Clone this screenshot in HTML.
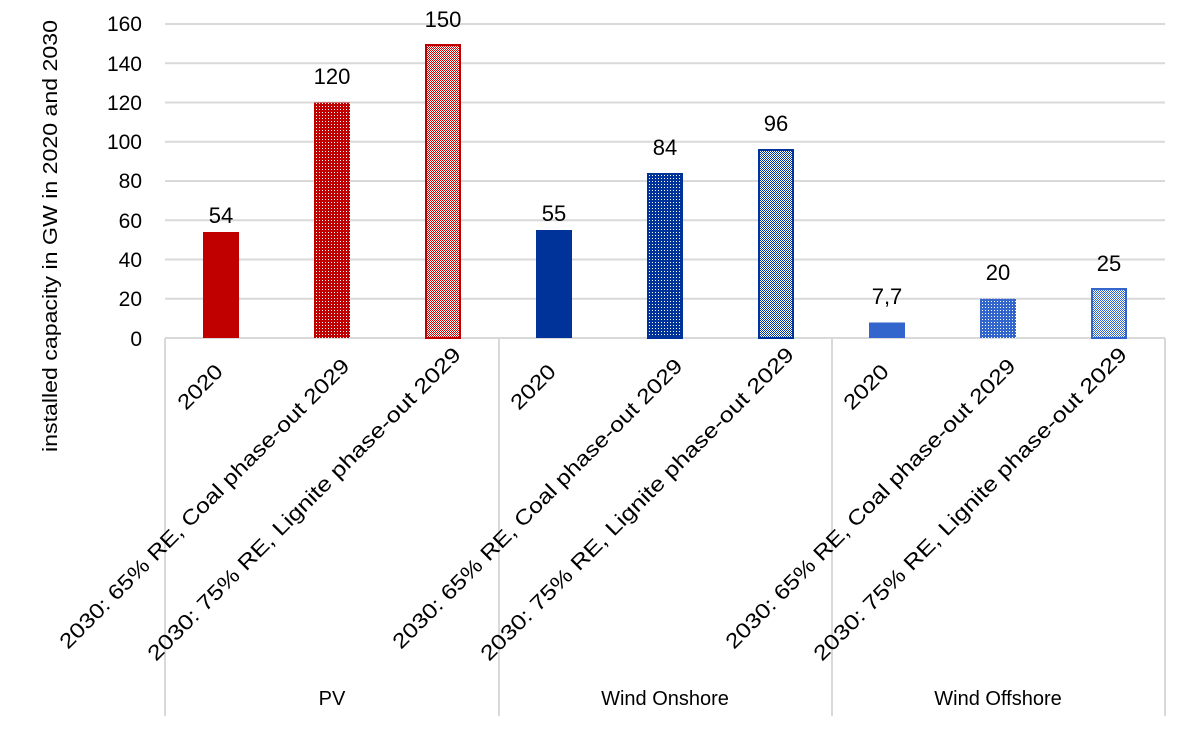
<!DOCTYPE html>
<html><head><meta charset="utf-8"><style>body{margin:0;background:#fff}</style></head><body>
<svg width="1182" height="727" xmlns="http://www.w3.org/2000/svg" font-family="Liberation Sans, sans-serif">
<defs>
<pattern id="rd" width="3" height="3" patternUnits="userSpaceOnUse"><rect width="3" height="3" fill="#C00000"/><rect x="1" y="1" width="1" height="1" fill="#fff"/></pattern>
<pattern id="rl" width="2" height="2" patternUnits="userSpaceOnUse"><rect width="2" height="2" fill="#fff"/><rect width="1" height="1" fill="#D00000"/><rect x="1" y="1" width="1" height="1" fill="#D00000"/></pattern>
<pattern id="bd" width="3" height="3" patternUnits="userSpaceOnUse"><rect width="3" height="3" fill="#003399"/><rect x="1" y="1" width="1" height="1" fill="#fff"/></pattern>
<pattern id="bl" width="2" height="2" patternUnits="userSpaceOnUse"><rect width="2" height="2" fill="#fff"/><rect width="1" height="1" fill="#003399"/><rect x="1" y="1" width="1" height="1" fill="#003399"/></pattern>
<pattern id="cd" width="3" height="3" patternUnits="userSpaceOnUse"><rect width="3" height="3" fill="#3366CC"/><rect x="1" y="1" width="1" height="1" fill="#fff"/></pattern>
<pattern id="cl" width="2" height="2" patternUnits="userSpaceOnUse"><rect width="2" height="2" fill="#fff"/><rect width="1" height="1" fill="#3366CC"/><rect x="1" y="1" width="1" height="1" fill="#3366CC"/></pattern>
</defs>
<g stroke="#d9d9d9" stroke-width="2">
<line x1="165" x2="1165" y1="24" y2="24"/><line x1="165" x2="1165" y1="63.25" y2="63.25"/><line x1="165" x2="1165" y1="102.5" y2="102.5"/><line x1="165" x2="1165" y1="141.75" y2="141.75"/><line x1="165" x2="1165" y1="181" y2="181"/><line x1="165" x2="1165" y1="220.25" y2="220.25"/><line x1="165" x2="1165" y1="259.5" y2="259.5"/><line x1="165" x2="1165" y1="298.75" y2="298.75"/><line x1="165" x2="1165" y1="338" y2="338"/>
<line x1="165" x2="165" y1="338" y2="716"/><line x1="499" x2="499" y1="338" y2="716"/><line x1="832" x2="832" y1="338" y2="716"/><line x1="1165" x2="1165" y1="338" y2="716"/>
</g>
<g font-size="21" fill="#000" text-anchor="end">
<text x="142" y="31">160</text><text x="142" y="71">140</text><text x="142" y="110">120</text><text x="142" y="149">100</text><text x="142" y="188">80</text><text x="142" y="228">60</text><text x="142" y="267">40</text><text x="142" y="306">20</text><text x="142" y="346">0</text>
</g>
<text transform="translate(57,452) rotate(-90)" font-size="20" textLength="432" lengthAdjust="spacingAndGlyphs">installed capacity in GW in 2020 and 2030</text>
<rect x="203" y="232" width="36" height="106" fill="#C00000"/>
<rect x="314" y="102.5" width="36" height="235.5" fill="url(#rd)"/>
<rect x="426" y="45" width="34" height="293" fill="url(#rl)" stroke="#C00000" stroke-width="2"/>
<rect x="536" y="230" width="36" height="108" fill="#003399"/>
<rect x="648" y="174" width="34" height="164" fill="url(#bd)" stroke="#003399" stroke-width="2"/>
<rect x="759" y="150" width="34" height="188" fill="url(#bl)" stroke="#003399" stroke-width="2"/>
<rect x="869" y="322.5" width="36" height="15.5" fill="#3366CC"/>
<rect x="980" y="298.75" width="36" height="39.25" fill="url(#cd)"/>
<rect x="1092" y="289" width="34" height="49" fill="url(#cl)" stroke="#3366CC" stroke-width="2"/>
<g font-size="22" text-anchor="middle">
<text x="221" y="223">54</text><text x="332" y="84">120</text><text x="443" y="27">150</text>
<text x="554" y="221">55</text><text x="665" y="155">84</text><text x="776" y="131">96</text>
<text x="887" y="304">7,7</text><text x="998" y="280">20</text><text x="1109" y="271">25</text>
</g>
<g font-size="21">
<text transform="translate(186,411) rotate(-45)" textLength="54" lengthAdjust="spacingAndGlyphs">2020</text>
<text transform="translate(68,650) rotate(-45)" textLength="400" lengthAdjust="spacingAndGlyphs">2030: 65% RE, Coal phase-out 2029</text>
<text transform="translate(156,662) rotate(-45)" textLength="433" lengthAdjust="spacingAndGlyphs">2030: 75% RE, Lignite phase-out 2029</text>
<text transform="translate(519,411) rotate(-45)" textLength="54" lengthAdjust="spacingAndGlyphs">2020</text>
<text transform="translate(401,650) rotate(-45)" textLength="400" lengthAdjust="spacingAndGlyphs">2030: 65% RE, Coal phase-out 2029</text>
<text transform="translate(489,662) rotate(-45)" textLength="433" lengthAdjust="spacingAndGlyphs">2030: 75% RE, Lignite phase-out 2029</text>
<text transform="translate(852,411) rotate(-45)" textLength="54" lengthAdjust="spacingAndGlyphs">2020</text>
<text transform="translate(734,650) rotate(-45)" textLength="400" lengthAdjust="spacingAndGlyphs">2030: 65% RE, Coal phase-out 2029</text>
<text transform="translate(822,662) rotate(-45)" textLength="433" lengthAdjust="spacingAndGlyphs">2030: 75% RE, Lignite phase-out 2029</text>
</g>
<g font-size="20" text-anchor="middle">
<text x="332" y="705">PV</text><text x="665" y="705">Wind Onshore</text><text x="998" y="705">Wind Offshore</text>
</g>
</svg>
</body></html>
